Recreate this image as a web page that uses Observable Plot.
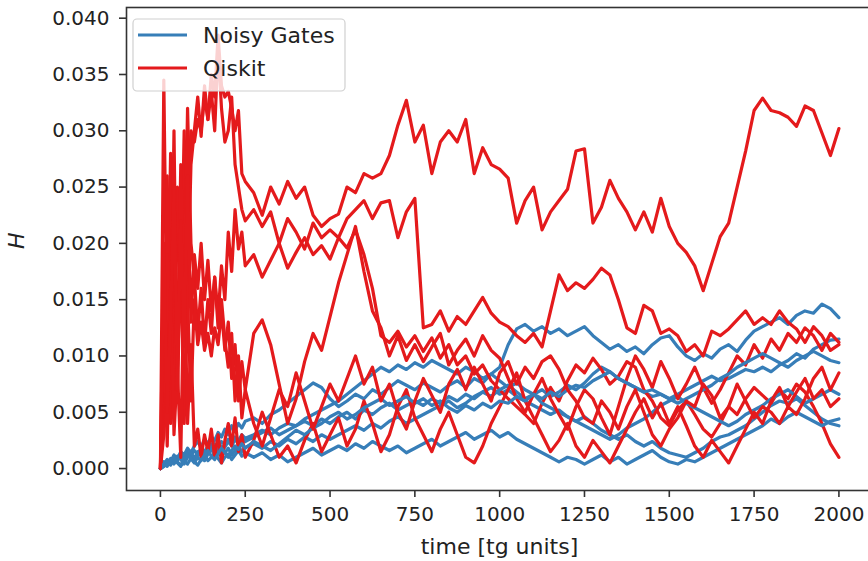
<!DOCTYPE html>
<html>
<head>
<meta charset="utf-8">
<script src="https://cdn.jsdelivr.net/npm/d3@7"></script>
<script src="https://cdn.jsdelivr.net/npm/@observablehq/plot@0.6"></script>
<style>
  html, body { margin: 0; padding: 0; background: #fff; overflow: hidden; }
  #chart { width: 868px; height: 561px; overflow: hidden; }
  #chart svg { max-width: none !important; }
</style>
</head>
<body>
<div id="chart"></div>
<script>
// time grid [tg units]
const times = [0,10,20,30,40,50,60,70,80,90,100,110,120,130,140,150,160,170,180,190,200,210,220,230,240,250,
  275,300,325,350,375,400,425,450,475,500,
  525,550,575,600,625,650,675,700,725,750,
  775,800,825,850,875,900,925,950,975,1000,
  1025,1050,1075,1100,1125,1150,1175,1200,1225,1250,
  1275,1300,1325,1350,1375,1400,1425,1450,1475,1500,
  1525,1550,1575,1600,1625,1650,1675,1700,1725,1750,
  1775,1800,1825,1850,1875,1900,1925,1950,1975,2000];

// H values in units of 1e-4
const qiskit1 = [0,150,60,210,120,240,180,270,220,300,290,310,300,330,310,350,330,385,340,330,335,320,300,318,262,255,
  245,225,250,235,255,240,250,225,215,222,
  226,250,245,262,258,262,278,305,327,290,
  305,262,290,300,290,310,262,285,270,266,
  258,218,238,250,212,228,238,248,282,284,
  218,232,256,240,228,212,228,210,240,215,
  200,192,180,158,182,206,218,250,282,318,
  329,318,316,312,304,322,318,298,278,302];
const qiskit2 = [0,345,100,280,60,250,140,300,150,270,300,330,295,340,310,335,300,375,320,290,300,330,270,250,230,220,
  230,215,228,200,222,210,195,218,205,212,
  205,222,230,238,222,236,238,205,228,240,
  125,128,140,122,135,128,140,152,138,130,
  126,118,112,120,108,140,172,158,165,160,
  168,178,172,150,125,120,145,140,120,124,
  118,104,110,100,122,118,124,132,140,128,
  134,128,140,130,124,112,126,118,105,110];
const qiskit3 = [0,80,260,40,220,100,270,150,320,200,170,120,160,110,150,120,170,135,180,150,210,175,230,195,210,180,
  190,170,185,200,178,192,205,190,198,186,
  205,196,212,190,160,118,112,122,108,118,
  104,116,98,110,92,100,84,92,78,70,
  62,55,48,40,58,72,60,78,92,85,
  98,88,75,82,95,90,70,60,45,38,
  52,60,48,35,28,40,55,48,62,72,
  65,58,70,62,75,68,55,40,22,10];
const qiskit4 = [0,30,190,90,300,60,200,40,150,60,150,110,130,105,120,100,125,110,140,105,130,80,110,60,95,70,
  120,132,110,75,40,62,95,120,105,135,
  165,190,215,175,140,125,100,118,96,110,
  95,108,120,92,105,115,100,118,105,98,
  80,62,50,66,80,62,48,35,55,70,
  62,45,30,55,80,100,88,72,95,80,
  62,75,90,72,58,70,85,100,92,110,
  98,115,105,120,112,125,118,105,120,112];
const qiskit5 = [0,120,20,160,30,90,10,180,40,110,20,35,10,30,15,35,10,30,5,25,40,20,45,15,30,10,
  25,50,30,10,20,5,25,40,15,30,
  45,20,35,60,40,15,30,55,70,45,
  30,15,35,50,30,10,5,20,40,55,
  70,85,60,45,30,15,25,40,20,10,
  25,15,5,20,35,50,62,45,58,40,
  55,38,20,10,25,15,5,20,35,50,
  40,60,72,55,68,80,62,70,55,62];
const qiskit6 = [0,200,50,130,250,70,220,110,260,130,190,160,200,150,185,140,170,125,150,115,90,120,60,100,45,70,
  40,20,45,70,55,85,60,35,55,75,
  60,80,100,75,90,60,75,50,35,60,
  80,65,50,75,88,70,90,75,60,85,
  95,75,90,80,95,100,88,70,60,45,
  40,60,50,35,55,70,50,30,20,35,
  45,60,55,75,65,45,55,75,60,45,
  55,50,40,55,48,62,80,90,70,85];

const noisy1 = [0,4,8,6,12,9,15,12,18,14,20,24,19,26,22,28,25,32,28,35,30,38,34,40,36,42,
  45,40,48,52,58,64,70,76,72,62,
  55,60,66,62,70,66,72,78,74,70,
  76,72,68,74,78,72,80,76,84,90,
  110,124,128,122,126,120,124,118,122,126,
  118,112,106,110,104,108,102,110,116,118,
  108,100,96,102,98,106,110,104,114,122,
  126,130,134,128,136,140,138,146,142,134];
const noisy2 = [0,3,6,4,9,7,12,10,14,11,16,13,18,15,20,17,22,19,24,21,26,23,28,25,30,27,
  30,34,30,36,40,38,44,48,52,56,
  60,66,72,78,84,90,86,92,88,94,
  90,96,92,88,84,90,86,80,84,78,
  72,76,70,66,70,64,68,74,70,76,
  84,90,86,80,76,72,68,64,66,62,
  66,70,74,78,82,78,80,84,88,86,
  90,86,92,96,102,98,106,110,114,115];
const noisy3 = [0,2,5,8,4,9,12,8,14,10,6,12,16,13,18,22,17,20,15,19,24,20,26,22,28,24,
  28,32,36,30,34,38,42,38,44,40,
  46,50,44,52,48,54,58,52,56,60,
  56,62,58,64,60,66,62,68,72,66,
  70,64,60,56,52,48,52,46,42,46,
  40,34,30,26,30,24,20,24,18,14,
  12,10,14,18,24,28,30,34,38,44,
  50,56,60,58,62,56,50,44,40,38];
const noisy4 = [0,6,3,9,5,11,8,4,10,14,9,15,11,7,13,17,12,16,20,14,18,12,16,20,15,19,
  22,18,24,20,26,22,28,24,30,26,
  30,34,38,34,40,36,42,46,40,44,
  48,52,56,60,54,58,64,68,64,70,
  74,68,62,66,58,54,50,46,42,38,
  34,30,26,30,36,40,44,50,56,60,
  64,58,54,50,46,42,38,42,48,52,
  56,62,66,70,64,58,62,66,70,66];
const noisy5 = [0,2,6,3,8,5,2,7,4,9,6,3,8,12,7,10,14,9,5,10,13,8,12,16,11,14,
  10,14,8,12,6,10,14,18,12,16,
  20,16,22,18,24,20,16,20,14,18,
  22,26,20,24,28,32,26,30,34,28,
  32,26,22,18,14,10,6,10,8,4,
  8,12,6,10,4,8,12,16,10,6,
  4,8,6,10,14,18,22,26,30,34,
  38,44,40,46,50,46,42,38,42,44];
const noisy6 = [0,4,2,7,10,6,3,8,12,9,5,10,7,12,16,11,8,13,18,14,10,16,20,17,22,18,
  24,20,16,22,28,34,30,36,40,46,
  50,44,48,54,58,62,56,60,64,58,
  62,56,60,54,50,56,52,58,54,60,
  58,64,60,66,62,68,64,70,74,72,
  78,82,86,80,76,72,68,70,66,62,
  58,62,66,70,74,80,84,90,94,98,
  102,98,94,90,96,100,104,100,96,94];

const models = ["Noisy Gates", "Qiskit"];
const modelColors = ["#377eb8", "#e41a1c"];
const xTicks = [0, 250, 500, 750, 1000, 1250, 1500, 1750, 2000];
const yTicks = [0, 0.005, 0.010, 0.015, 0.020, 0.025, 0.030, 0.035, 0.040];
const xLabel = "time [tg units]";
const yLabel = "H";

const runs = [
  ["Noisy Gates", noisy1], ["Qiskit", qiskit1],
  ["Noisy Gates", noisy2], ["Qiskit", qiskit2],
  ["Noisy Gates", noisy3], ["Qiskit", qiskit3],
  ["Noisy Gates", noisy4], ["Qiskit", qiskit4],
  ["Noisy Gates", noisy5], ["Qiskit", qiskit5],
  ["Noisy Gates", noisy6], ["Qiskit", qiskit6]
];
const rows = runs.flatMap(([model, vals], k) =>
  vals.map((v, i) => ({t: times[i], H: v / 1e4, model, run: k})));

const chart = Plot.plot({
  width: 880,
  height: 561,
  marginLeft: 126,
  marginRight: 8,
  marginTop: 7,
  marginBottom: 71,
  style: {fontFamily: "DejaVu Sans", fontSize: "20px", color: "#222", background: "#fff", maxWidth: "none"},
  x: {domain: [-100, 2099]},
  y: {domain: [-0.00195, 0.04095]},
  color: {domain: models, range: modelColors},
  marks: [
    Plot.line(rows, {x: "t", y: "H", z: "run", stroke: "model", strokeWidth: 3.2, strokeLinejoin: "round"}),
    Plot.frame({stroke: "#333", strokeWidth: 1.6}),
    Plot.axisX({ticks: xTicks, tickSize: 7, tickPadding: 9, strokeWidth: 1.6, stroke: "#333", label: null, tickFormat: d => String(d)}),
    Plot.axisY({ticks: yTicks, tickSize: 7, tickPadding: 10, strokeWidth: 1.6, stroke: "#333", label: null, tickFormat: d3.format(".3f")}),
    Plot.text([xLabel], {text: d => d, frameAnchor: "bottom", dy: 56, fontSize: 22, lineAnchor: "middle", fill: "#222"}),
    Plot.text([yLabel], {text: d => d, frameAnchor: "left", dx: -110, rotate: -90, fontSize: 22, fontStyle: "italic", lineAnchor: "middle", fill: "#222"})
  ]
});
chart.style.maxWidth = "none";
chart.style.width = "880px";
chart.style.height = "561px";

// legend (upper left inside axes)
const svg = d3.select(chart);
const lg = svg.append("g").attr("font-family", "DejaVu Sans").attr("font-size", 22).attr("text-anchor", "start");
lg.append("rect").attr("x", 133).attr("y", 19).attr("width", 212).attr("height", 72).attr("rx", 4)
  .attr("fill", "#fff").attr("fill-opacity", 0.8).attr("stroke", "#d0d0d0").attr("stroke-width", 1.2);
models.forEach((m, i) => {
  const yy = 35 + i * 33;
  lg.append("line").attr("x1", 138).attr("x2", 187).attr("y1", yy).attr("y2", yy)
    .attr("stroke", modelColors[i]).attr("stroke-width", 3);
  lg.append("text").attr("x", 203).attr("y", yy).attr("dy", "0.35em").attr("text-anchor", "start").attr("fill", "#222").text(m);
});

document.getElementById("chart").appendChild(chart);
</script>
</body>
</html>
